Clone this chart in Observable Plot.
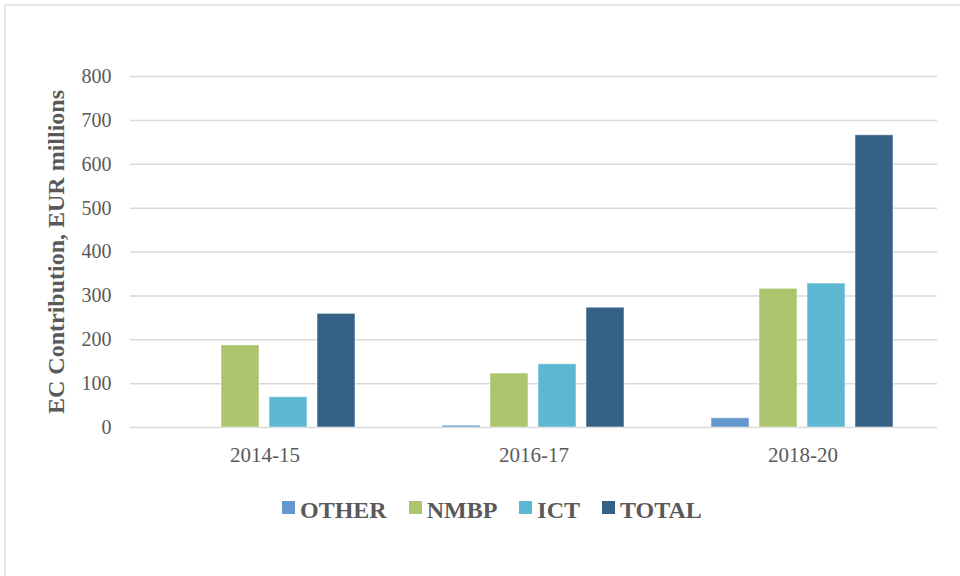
<!DOCTYPE html>
<html>
<head>
<meta charset="utf-8">
<script src="https://cdn.jsdelivr.net/npm/d3@7"></script>
<script src="https://cdn.jsdelivr.net/npm/@observablehq/plot@0.6"></script>
<style>
  body { margin: 0; background: #fff; }
  #wrap { position: relative; width: 960px; height: 576px; overflow: hidden; font-family: "Liberation Serif", "Times New Roman", serif; }
  #frame { position: absolute; left: 4px; top: 4px; width: 970px; height: 590px; border-top: 2px solid #e6e6e6; border-left: 2px solid #e6e6e6; pointer-events: none; }
  #chart { position: absolute; left: 0; top: 0; }
  #chart svg text { font-family: "Liberation Serif", "Times New Roman", serif; }
  #chart g[aria-label="y-axis label"] text { font-weight: bold; font-size: 24px; }
  #legend { position: absolute; left: 282px; top: 498px; display: flex; align-items: flex-start; }
  .item { display: flex; align-items: flex-start; margin-right: 22px; }
  .sw { width: 13px; height: 13px; margin-top: 3px; margin-right: 5px; }
  .lab { font-family: "Liberation Serif", "Times New Roman", serif; font-weight: bold; font-size: 24px; line-height: 24px; color: #595959; }
</style>
</head>
<body>
<div id="wrap">
  <div id="chart"></div>
  <div id="legend"></div>
  <div id="frame"></div>
</div>
<script>
const periods = ["2014-15", "2016-17", "2018-20"];
const series = ["OTHER", "NMBP", "ICT", "TOTAL"];
const other = [0, 4, 21];
const nmbp = [187, 123, 316];
const ict = [69, 144, 328];
const total = [259, 273, 666];
const yTicks = [0, 100, 200, 300, 400, 500, 600, 700, 800];
const colors = ["#6497CD", "#ADC46E", "#5CB8D2", "#366187"];

const serif = '"Liberation Serif", "Times New Roman", serif';
const valuesBySeries = { OTHER: other, NMBP: nmbp, ICT: ict, TOTAL: total };
const data = periods.flatMap((p, i) => series.map(s => ({ period: p, series: s, value: valuesBySeries[s][i] })));

const chart = Plot.plot({
  width: 960,
  height: 470,
  marginLeft: 130,
  marginRight: 23,
  marginTop: 76,
  marginBottom: 43,
  style: { fontFamily: serif, color: "#595959", background: "transparent" },
  fx: { domain: periods, padding: 0, label: null },
  x: { domain: series, paddingInner: 0.2, paddingOuter: 0.873, axis: null },
  y: { domain: [0, 800] },
  color: { domain: series, range: colors },
  marks: [
    Plot.gridY(yTicks, { stroke: "#d9d9d9", strokeOpacity: 1, strokeWidth: 1.5 }),
    Plot.barY(data, { fx: "period", x: "series", y: "value", fill: "series", stroke: "#ffffff", strokeOpacity: 0.5, strokeWidth: 1 }),
    Plot.axisY(yTicks, { tickSize: 0, tickPadding: 19, fontSize: 20, fontFamily: serif, label: "EC Contribution, EUR millions", labelAnchor: "center", labelOffset: 84, labelArrow: "none" }),
    Plot.axisFx({ anchor: "bottom", tickSize: 0, tickPadding: 20, fontSize: 21, fontFamily: serif, label: null })
  ]
});
document.getElementById("chart").appendChild(chart);

const legend = document.getElementById("legend");
series.forEach((s, i) => {
  const item = document.createElement("div");
  item.className = "item";
  const sw = document.createElement("div");
  sw.className = "sw";
  sw.style.background = colors[i];
  const lab = document.createElement("div");
  lab.className = "lab";
  lab.textContent = s;
  item.appendChild(sw);
  item.appendChild(lab);
  legend.appendChild(item);
});
</script>
</body>
</html>
